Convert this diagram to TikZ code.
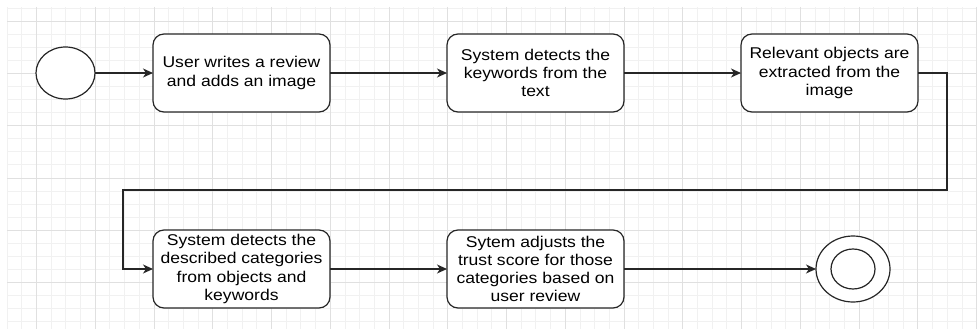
\documentclass[tikz,border=0pt]{standalone}
\usepackage{fontspec}
\setmainfont{Liberation Sans}[FakeStretch=1.124]
\usetikzlibrary{arrows.meta,positioning,shapes.geometric}
\definecolor{gridminor}{HTML}{F1F1F1}
\definecolor{gridmajor}{HTML}{E0E0E0}
\definecolor{edgegray}{HTML}{262626}

\begin{document}
\begin{tikzpicture}[
    node distance=117pt,
    actstep/.style={draw=edgegray, line width=1.2pt, rounded corners=11pt, align=center, fill=white, minimum width=177pt, minimum height=78pt, inner sep=0pt, outer sep=0pt, font=\fontsize{15.6}{18.2}\selectfont},
    startnode/.style={draw=edgegray, line width=1.2pt, ellipse, fill=white, minimum width=59pt, minimum height=52pt, inner sep=0pt, outer sep=0pt},
    endring/.style={draw=edgegray, line width=1.2pt, ellipse, fill=white, inner sep=0pt, outer sep=0pt},
    flow/.style={-{Stealth[length=10pt,width=9pt,inset=3pt]}, line width=1.2pt, draw=edgegray},
    gridline/.style={line width=0.7pt}
  ]
    \useasboundingbox (0,0) rectangle (979pt,-329pt);

    % background grid
    \foreach \i in {0,...,66}
      \draw[gridminor, gridline] ({7pt+\i*14.69pt},-7pt) -- ({7pt+\i*14.69pt},-329pt);
    \foreach \j in {0,...,24}
      \draw[gridminor, gridline] (7pt,{-8pt-\j*13.07pt}) -- (977pt,{-8pt-\j*13.07pt});
    \foreach \i in {2,6,...,66}
      \draw[gridmajor, gridline] ({7pt+\i*14.69pt},-7pt) -- ({7pt+\i*14.69pt},-329pt);
    \foreach \j in {1,5,...,21}
      \draw[gridmajor, gridline] (7pt,{-8pt-\j*13.07pt}) -- (977pt,{-8pt-\j*13.07pt});

    \node[startnode] (start) at (65.5pt,-73pt) {};
    \node[actstep, right=58pt of start] (review) {User writes a review\\and adds an image};
    \node[actstep, right=of review] (keywords) {System detects the\\keywords from the\\text};
    \node[actstep, right=of keywords] (objects) {Relevant objects are\\extracted from the\\image};

    \node[actstep, below=118pt of review] (categories) {System detects the\\described categories\\from objects and\\keywords};
    \node[actstep, right=of categories] (trust) {Sytem adjusts the\\trust score for those\\categories based on\\user review};
    \node[endring, minimum width=74pt, minimum height=66pt, right=192pt of trust] (finish) {};
    \node[endring, minimum width=44pt, minimum height=40pt] (finishin) at (finish.center) {};

    \coordinate[right=29pt of objects.east] (wrapR);
    \coordinate[left=30pt of categories.west] (wrapL);
    \coordinate[below=78pt of objects.south] (wrapY);

    \draw[flow] (start) -- (review);
    \draw[flow] (review) -- (keywords);
    \draw[flow] (keywords) -- (objects);
    \draw[flow] (objects.east) -- (wrapR) |- (wrapY -| wrapL) |- (categories.west);
    \draw[flow] (categories) -- (trust);
    \draw[flow] (trust) -- (finish);
  \end{tikzpicture}
\end{document}
